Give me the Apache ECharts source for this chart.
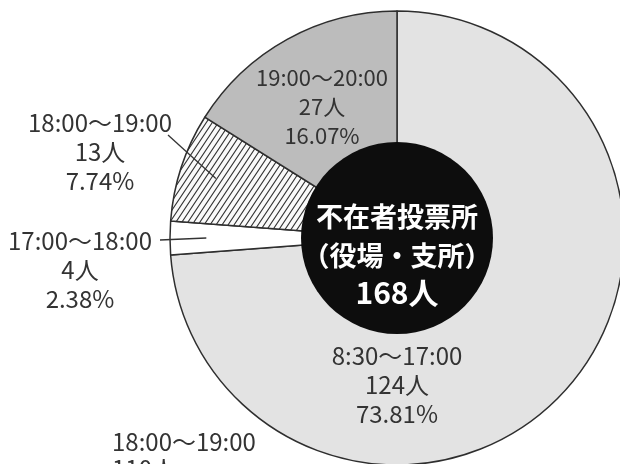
<!DOCTYPE html>
<html>
<head>
<meta charset="utf-8">
<script src="https://cdn.jsdelivr.net/npm/echarts@6/dist/echarts.min.js"></script>
<style>
html,body{margin:0;padding:0;background:#fff;}
#c{width:620px;height:464px;}
</style>
</head>
<body>
<div id="c"></div>
<script>
// ---- data ----
const categories = ['8:30～17:00', '17:00～18:00', '18:00～19:00', '19:00～20:00'];
const voters = [124, 4, 13, 27];
const percentLabels = ['73.81%', '2.38%', '7.74%', '16.07%'];
const centerTitle = ['不在者投票所', '（役場・支所）'];
const unit = '人';
const bottomCaption = ['18:00～19:00', '110人'];

// ---- layout / style ----
const CX = 397, CY = 238, R = 227, RIN = 96;
const FONT = '"Noto Sans CJK JP", "Noto Sans", sans-serif';
const labelPos = [
  {x: 397, y: 385},
  {x: 80,  y: 270},
  {x: 100, y: 152},
  {x: 322, y: 107}
];
const labelFontSize = [24, 24, 24, 22];
const leaderEnd = [null, {x: 160, y: 240}, {x: 168, y: 135}, null];
const leaderInnerRatio = 0.84;

function hatch() {
  const w = 6, h = 9;
  const c = document.createElement('canvas');
  c.width = w; c.height = h;
  const g = c.getContext('2d');
  g.fillStyle = '#fafafa';
  g.fillRect(0, 0, w, h);
  g.strokeStyle = '#333';
  g.lineWidth = 1.1;
  g.beginPath();
  g.moveTo(-w, 2 * h); g.lineTo(2 * w, -h);
  g.moveTo(-2 * w, 2 * h); g.lineTo(w, -h);
  g.moveTo(0, 2 * h); g.lineTo(3 * w, -h);
  g.stroke();
  return c;
}

const fills = ['#e3e3e3', '#ffffff', {image: hatch(), repeat: 'repeat'}, '#bcbcbc'];
const total = voters.reduce((a, b) => a + b, 0);

// leader lines derived from slice mid-angles
const graphics = [];
let cum = 0;
voters.forEach((v, i) => {
  const mid = (cum + v / 2) / total * 2 * Math.PI; // clockwise from top
  cum += v;
  if (!leaderEnd[i]) return;
  const r = R * leaderInnerRatio;
  const x1 = CX + r * Math.sin(mid);
  const y1 = CY - r * Math.cos(mid);
  graphics.push({
    type: 'line', silent: true, z: 10,
    shape: {x1: x1, y1: y1, x2: leaderEnd[i].x, y2: leaderEnd[i].y},
    style: {stroke: '#333', lineWidth: 1.3}
  });
});
graphics.push({
  type: 'text', left: 112, top: 428, silent: true,
  style: {text: bottomCaption.join('\n'), font: '24px ' + FONT, fill: '#333', lineHeight: 27, align: 'center', x: 68}
});

const chart = echarts.init(document.getElementById('c'), null, {renderer: 'canvas'});
chart.setOption({
  backgroundColor: '#ffffff',
  animation: false,
  graphic: graphics,
  series: [
    {
      type: 'pie',
      center: [CX, CY],
      radius: [0, R],
      startAngle: 90,
      clockwise: true,
      silent: true,
      avoidLabelOverlap: false,
      itemStyle: {borderColor: '#2e2e2e', borderWidth: 1.5},
      label: {
        show: true,
        position: 'inside',
        color: '#333',
        fontFamily: FONT,
        fontSize: 24,
        lineHeight: 29,
        align: 'center',
        formatter: p => categories[p.dataIndex] + '\n' + voters[p.dataIndex] + unit + '\n' + percentLabels[p.dataIndex]
      },
      labelLine: {show: false},
      labelLayout: p => ({x: labelPos[p.dataIndex].x, y: labelPos[p.dataIndex].y, align: 'center', verticalAlign: 'middle'}),
      emphasis: {disabled: true},
      data: categories.map((n, i) => ({
        name: n, value: voters[i],
        itemStyle: {color: fills[i]},
        label: {fontSize: labelFontSize[i]}
      }))
    },
    {
      type: 'pie',
      center: [CX, CY],
      radius: [0, RIN],
      silent: true,
      z: 5,
      itemStyle: {color: '#0d0d0d'},
      label: {
        show: true,
        position: 'center',
        color: '#fff',
        fontFamily: FONT,
        fontWeight: 'bold',
        offset: [0, 16],
        formatter: () => '{t|' + centerTitle.join('\n') + '}\n{n|' + total + unit + '}',
        rich: {
          t: {fontFamily: FONT, fontWeight: 'bold', fontSize: 27, lineHeight: 39, color: '#fff'},
          n: {fontFamily: FONT, fontWeight: 'bold', fontSize: 30, lineHeight: 36, color: '#fff'}
        }
      },
      labelLine: {show: false},
      emphasis: {disabled: true},
      data: [{name: 'total', value: total}]
    }
  ]
});
</script>
</body>
</html>
